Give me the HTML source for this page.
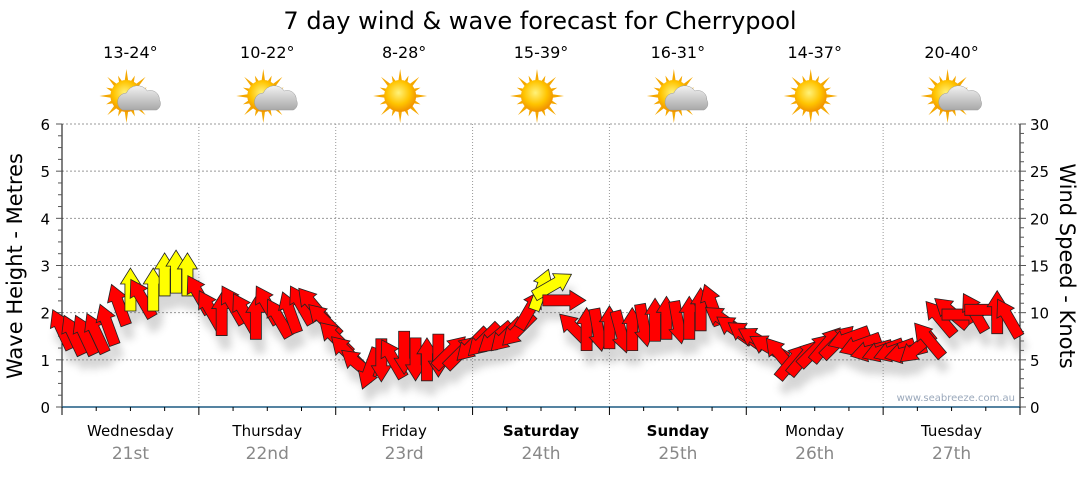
<!DOCTYPE html>
<html><head><meta charset="utf-8"><style>
body{margin:0;background:#fff;font-family:"Liberation Sans","DejaVu Sans",sans-serif}
svg text{font-family:"DejaVu Sans","Liberation Sans",sans-serif}
</style></head><body>
<svg id="chart" width="1080" height="475" viewBox="0 0 1080 475" xmlns="http://www.w3.org/2000/svg">
<defs>
<filter id="sh" x="-50%" y="-50%" width="200%" height="200%"><feGaussianBlur stdDeviation="4"/></filter>
<radialGradient id="sunG" cx="45%" cy="40%" r="60%"><stop offset="0" stop-color="#fff27a"/><stop offset="0.6" stop-color="#ffc400"/><stop offset="1" stop-color="#f09000"/></radialGradient>
<linearGradient id="cloudG" x1="0" y1="0" x2="0" y2="1"><stop offset="0" stop-color="#f2f2f2"/><stop offset="1" stop-color="#a8a8a8"/></linearGradient>
</defs>
<text x="540" y="29" text-anchor="middle" font-size="24" fill="#000">7 day wind &amp; wave forecast for Cherrypool</text>
<g id="header"></g>
<g id="grid"></g>
<g id="axes"></g>
<g id="shadows" filter="url(#sh)" opacity="0.3"></g>
<g id="arrows"></g>
<text transform="translate(22,266) rotate(-90)" text-anchor="middle" font-size="21" fill="#000">Wave Height - Metres</text>
<text transform="translate(1060,266) rotate(90)" text-anchor="middle" font-size="21" fill="#000">Wind Speed - Knots</text>
<text x="1015" y="401" text-anchor="end" font-size="10" fill="#9aa8bb">www.seabreeze.com.au</text>
</svg>
<script>
const days=["Wednesday","Thursday","Friday","Saturday","Sunday","Monday","Tuesday"];
const dates=["21st","22nd","23rd","24th","25th","26th","27th"];
const boldDays=[false,false,false,true,true,false,false];
const temps=["13-24°","10-22°","8-28°","15-39°","16-31°","14-37°","20-40°"];
const cloudy=[true,true,false,false,true,false,true];
const waveTicks=[0,1,2,3,4,5,6];
const windTicks=[0,5,10,15,20,25,30];
// wind every 2 hours from Wednesday 00:00
const windKnots=[8.2,7.6,7.6,7.8,8.7,10.8,12.4,11.5,12.4,14,14.3,14,11.9,10.3,9.8,10.8,10,9.4,10.8,9.4,10,10.8,10.8,9.2,
7.3,5.8,4.5,4.1,5,5.1,5.8,5.1,5,5.5,5.8,5.8,6.6,7.1,7.3,7.6,8.2,10.3,12.4,12.9,11.3,8.2,8.2,8.2,8.4,8,8.2,8.7,9.2,9.4,9,9.4,10.3,10.8,
9.2,8.2,7.6,7.1,6.3,5.5,4.8,5.2,6,6.6,6.9,7.3,6.6,6,6,6,5.8,6.3,7.1,9.4,10,9.8,10,10.3,10,9.4];
const windDir=[-25,-25,-25,-25,-20,-20,0,-30,0,0,0,0,-30,-30,0,-30,-30,0,-30,-30,-20,-30,-40,-45,
-45,-45,-50,200,180,-30,180,180,0,180,45,45,225,225,230,225,225,30,20,60,90,-45,0,170,0,165,0,170,0,0,170,0,0,-20,
-55,-55,-55,-60,-60,-40,40,40,45,40,45,250,250,255,250,250,255,230,-40,-40,-50,90,-30,90,0,-30];
const X0=62,X1=1020,Y0=407,Y1=124,dayW=(X1-X0)/7;
const yW=v=>Y0-(v/6)*(Y0-Y1);
const yK=v=>Y0-(v/30)*(Y0-Y1);
const xH=h=>X0+h/168*(X1-X0);
const NS="http://www.w3.org/2000/svg";
function mk(t,a,p){const e=document.createElementNS(NS,t);for(const k in a)e.setAttribute(k,a[k]);p.appendChild(e);return e;}
const header=document.getElementById('header'),grid=document.getElementById('grid'),axes=document.getElementById('axes');
days.forEach((d,i)=>{
 const cx=X0+dayW*(i+0.5);
 const t=mk('text',{x:cx,y:58,'text-anchor':'middle','font-size':16,fill:'#000'},header);t.textContent=temps[i];
 
 
 const g=mk('g',{transform:`translate(${cx-4},${96})`},header);
 
 
 for(let r=0;r<16;r++){const a=r*Math.PI/8,L=r%2?22:27;mk('polygon',{points:`${Math.cos(a-0.14)*14},${Math.sin(a-0.14)*14} ${Math.cos(a)*L},${Math.sin(a)*L} ${Math.cos(a+0.14)*14},${Math.sin(a+0.14)*14}`,fill:'#f5a800'},g);}
 mk('circle',{cx:0,cy:0,r:16,fill:'url(#sunG)'},g);
 if(cloudy[i]){const c=mk('path',{d:'M-8,14 a9,9 0 0 1 4,-17 a12,12 0 0 1 21,-2 a9,9 0 0 1 12,9 a7,7 0 0 1 -3,10 z',fill:'url(#cloudG)',stroke:'#999','stroke-width':0.5},g);c.setAttribute('transform','translate(4,0)');}
 const dl=mk('text',{x:cx,y:436,'text-anchor':'middle','font-size':15,fill:'#000','font-weight':boldDays[i]?'bold':'normal'},axes);dl.textContent=d;
 
 
 const dt=mk('text',{x:cx,y:459,'text-anchor':'middle','font-size':17,fill:'#888'},axes);dt.textContent=dates[i];
 
 
});
waveTicks.forEach(v=>{ if(v>0) mk('line',{x1:X0,x2:X1,y1:yW(v),y2:yW(v),stroke:'#999','stroke-dasharray':'2,2'},grid);
 const t=mk('text',{x:50,y:yW(v)+6,'text-anchor':'end','font-size':15,fill:'#000'},axes);t.textContent=v;
 
 });
windTicks.forEach(v=>{const t=mk('text',{x:1030,y:yK(v)+6,'font-size':15,fill:'#000'},axes);t.textContent=v;
 
 });
for(let i=1;i<7;i++){const x=X0+dayW*i;mk('line',{x1:x,x2:x,y1:Y1,y2:Y0,stroke:'#999','stroke-dasharray':'1,2'},grid);}
mk('line',{x1:X0,x2:X0,y1:Y1,y2:Y0+8,stroke:'#000'},axes);
for(let v=0;v<=6;v+=0.25){const y=yW(v);mk('line',{x1:X0-(v%1?4:6),x2:X0,y1:y,y2:y,stroke:'#555'},axes);}
mk('line',{x1:X1,x2:X1,y1:Y1,y2:Y0,stroke:'#000'},axes);
for(let v=0;v<=30;v++){const y=yK(v);mk('line',{x1:X1,x2:X1+(v%5?4:6),y1:y,y2:y,stroke:'#555'},axes);}
mk('line',{x1:X0,x2:X1,y1:Y0,y2:Y0,stroke:'#1d5a82','stroke-width':1.5},axes);
for(let i=0;i<=28;i++){const x=X0+dayW/4*i;mk('line',{x1:x,x2:x,y1:Y0,y2:Y0+(i%4?4:8),stroke:'#000'},axes);}
const shp="0,-22 10,-6 5.5,-6 5.5,21 -5.5,21 -5.5,-6 -10,-6";
const ag=document.getElementById('arrows'),sg=document.getElementById('shadows');
windKnots.forEach((k,i)=>{
 const x=xH(i*2),y=yK(k);
 mk('polygon',{points:shp,fill:'#777',transform:`translate(${x+4},${y+14}) rotate(${windDir[i]})`},sg);
 const p=mk('polygon',{points:shp,fill:k>=12?'#ffff00':'#ff0000',stroke:'#222','stroke-width':0.8,transform:`translate(${x},${y}) rotate(${windDir[i]})`},ag);
 
 
});
</script>
</body></html>
